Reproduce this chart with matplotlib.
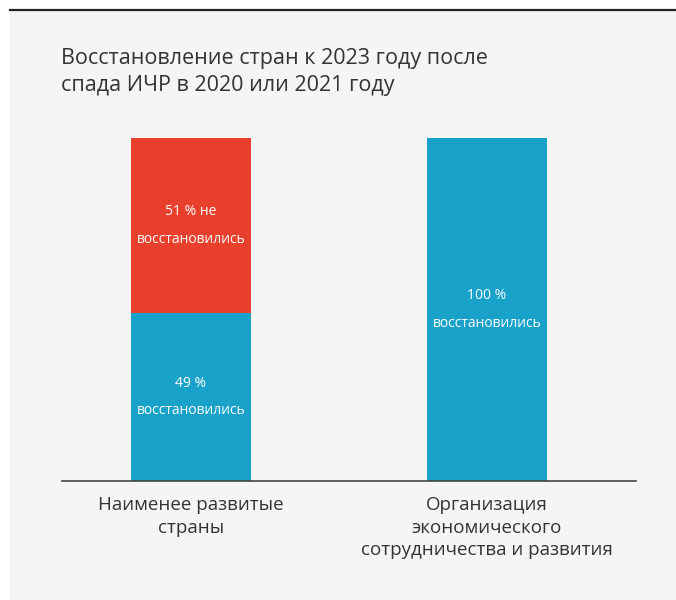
import matplotlib.pyplot as plt
from matplotlib.patches import Rectangle
from matplotlib.lines import Line2D

plt.rcParams['font.family'] = ['Open Sans', 'DejaVu Sans']

# Данные
categories = ['Наименее развитые\nстраны', 'Организация\nэкономического\nсотрудничества и развития']
recovered = [49, 100]
not_recovered = [51, 0]
recovered_labels = ['49 %\nвосстановились', '100 %\nвосстановились']
not_recovered_labels = ['51 % не\nвосстановились', '']
title = 'Восстановление стран к 2023 году после\nспада ИЧР в 2020 или 2021 году'

blue = '#18a1c9'
red = '#e8402c'
bg = '#f5f5f5'

W, H = 676, 600
fig = plt.figure(figsize=(W / 100, H / 100), dpi=100)
fig.patch.set_facecolor('white')

# Серая подложка и чёрная линия сверху
fig.patches.append(Rectangle((10 / W, 0), 1 - 10 / W, (H - 10) / H,
                             transform=fig.transFigure, facecolor=bg, edgecolor='none', zorder=-5))
fig.lines.append(Line2D([10 / W, 1], [1 - 9.5 / H, 1 - 9.5 / H], transform=fig.transFigure,
                        color='#222222', linewidth=1.6, zorder=-4))

fig.text(61 / W, 1 - 48 / H, title, fontsize=15.5, color='#333333', va='top', ha='left',
         linespacing=1.38)

ax = fig.add_axes([62 / W, 1 - 481 / H, 574 / W, (481 - 138) / H])
ax.set_facecolor('none')

x = [0, 1]
ax.bar(x, recovered, width=0.405, color=blue)
ax.bar(x, not_recovered, width=0.405, bottom=recovered, color=red)

ax.set_xlim(-129 / 296, -129 / 296 + 574 / 296)
ax.set_ylim(0, 100)

for i in x:
    ax.text(i, recovered[i] / 2, recovered_labels[i], ha='center', va='center',
            color='white', fontsize=10, linespacing=2.1)
    if not_recovered[i] > 0:
        ax.text(i, recovered[i] + not_recovered[i] / 2, not_recovered_labels[i],
                ha='center', va='center', color='white', fontsize=10, linespacing=2.1)
    ax.annotate(categories[i], xy=(i, 0), xytext=(0, -15), textcoords='offset pixels',
                ha='center', va='top', fontsize=13.5, color='#333333', linespacing=1.33)

for s in ['top', 'right', 'left']:
    ax.spines[s].set_visible(False)
ax.spines['bottom'].set_color('#444444')
ax.spines['bottom'].set_linewidth(1.2)
ax.set_xticks([])
ax.set_yticks([])

fig.savefig('out.png', dpi=100, facecolor=fig.get_facecolor())
